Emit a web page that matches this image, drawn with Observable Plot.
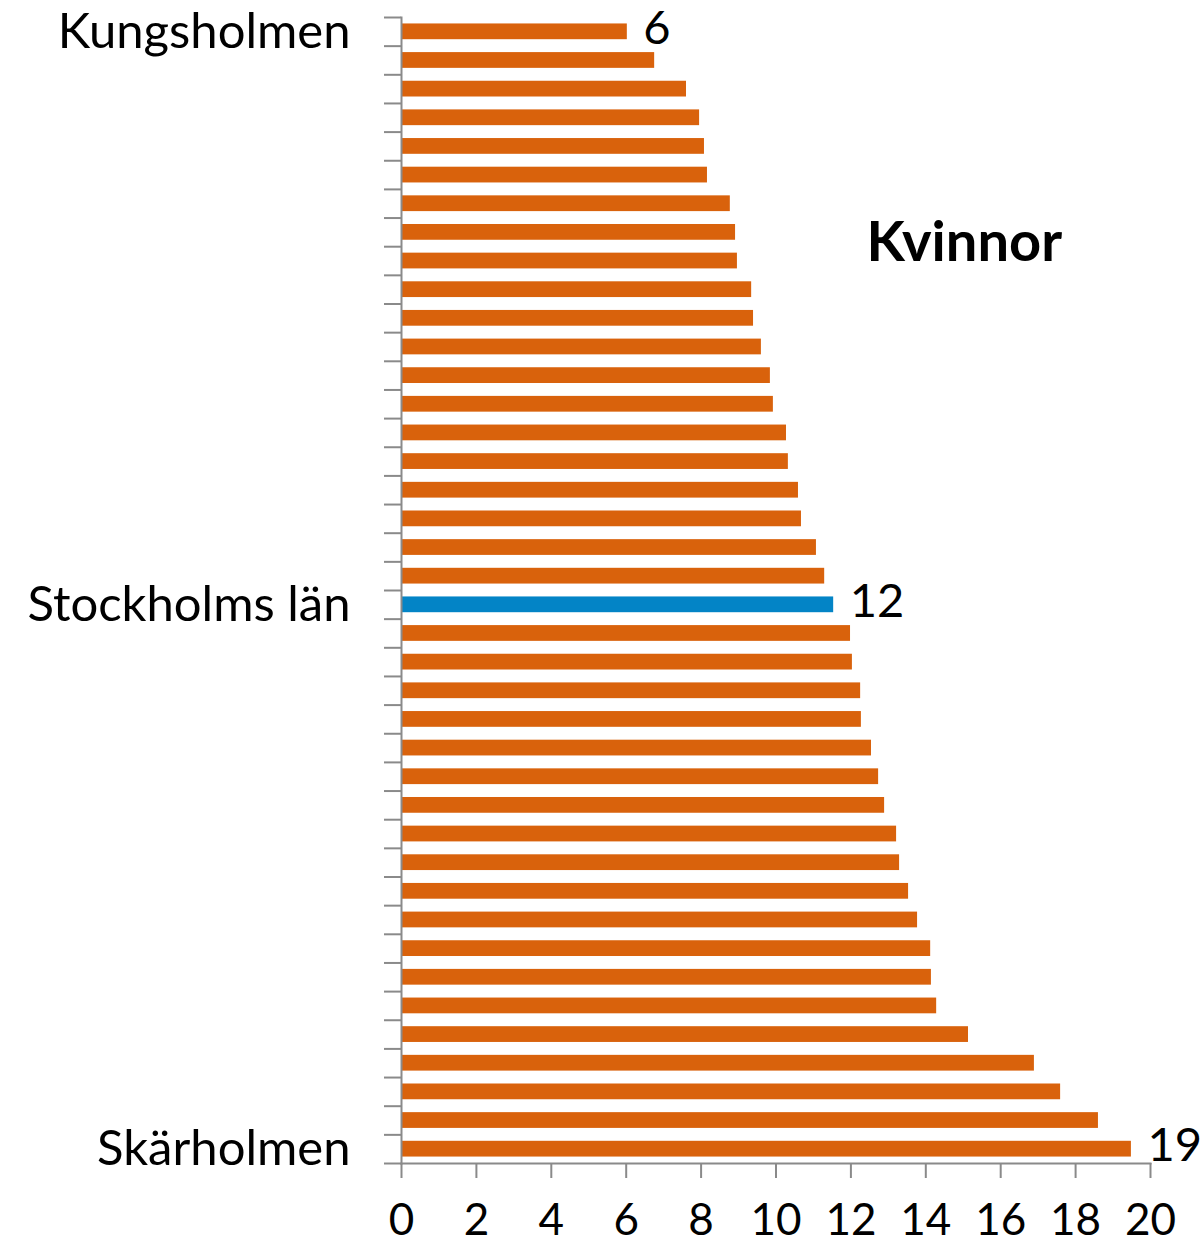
<!DOCTYPE html>
<html>
<head>
<meta charset="utf-8">
<script src="https://cdn.jsdelivr.net/npm/d3@7"></script>
<script src="https://cdn.jsdelivr.net/npm/@observablehq/plot@0.6"></script>
<style>
  html, body { margin: 0; padding: 0; background: #fff; }
</style>
</head>
<body>
<div id="chart"></div>
<script>
const categories = [
  "Kungsholmen", "#2", "#3", "#4", "#5", "#6", "#7", "#8", "#9", "#10",
  "#11", "#12", "#13", "#14", "#15", "#16", "#17", "#18", "#19", "#20",
  "Stockholms län", "#22", "#23", "#24", "#25", "#26", "#27", "#28", "#29", "#30",
  "#31", "#32", "#33", "#34", "#35", "#36", "#37", "#38", "#39", "Skärholmen"
];
const values = [
  6.03, 6.76, 7.61, 7.96, 8.09, 8.17, 8.78, 8.92, 8.97, 9.35,
  9.40, 9.61, 9.85, 9.93, 10.28, 10.33, 10.60, 10.68, 11.08, 11.30,
  11.54, 11.99, 12.04, 12.26, 12.28, 12.55, 12.74, 12.90, 13.22, 13.30,
  13.54, 13.78, 14.13, 14.15, 14.29, 15.14, 16.90, 17.60, 18.61, 19.49
];
const labeledCategories = ["Kungsholmen", "Stockholms län", "Skärholmen"];
const highlightCategory = "Stockholms län";
const xTicks = [0, 2, 4, 6, 8, 10, 12, 14, 16, 18, 20];
const title = "Kvinnor";

const orange = "#D9620C";
const blue = "#0384C6";
const axisGray = "#8a8a8a";

const data = categories.map((name, i) => ({name, value: values[i]}));

const width = 1204, height = 1244;
const marginLeft = 401, marginRight = 54, marginTop = 17, marginBottom = 81;
const step = (height - marginTop - marginBottom) / categories.length;

const chart = Plot.plot({
  width, height, marginLeft, marginRight, marginTop, marginBottom,
  style: {fontFamily: "Lato, 'Open Sans', sans-serif", background: "#fff", color: "#000", overflow: "visible"},
  x: {domain: [0, 20], axis: null, label: null},
  y: {domain: categories, paddingInner: 0.45, paddingOuter: 0.225, round: false, axis: null, label: null},
  marks: [
    Plot.barX(data, {
      x: "value", y: "name",
      fill: d => d.name === highlightCategory ? blue : orange
    }),
    Plot.text(data.filter(d => labeledCategories.includes(d.name)), {
      x: "value", y: "name", text: d => String(Math.round(d.value)),
      textAnchor: "start", dx: 16, dy: -3, fontSize: 47, fill: "#000"
    }),
    Plot.frame({anchor: "left", stroke: axisGray, strokeWidth: 2}),
    Plot.frame({anchor: "bottom", stroke: axisGray, strokeWidth: 2}),
    Plot.axisY({ticks: categories, tickSize: 17, fill: "none", stroke: axisGray, strokeWidth: 2, dy: -step / 2, label: null}),
    Plot.axisY({ticks: categories.slice(-1), tickSize: 17, fill: "none", stroke: axisGray, strokeWidth: 2, dy: step / 2, label: null}),
    Plot.axisY({ticks: labeledCategories, tickSize: 0, tickPadding: 51, fontSize: 49, fill: "#000", label: null}),
    Plot.axisX({ticks: xTicks, tickSize: 15, tickPadding: 25, fontSize: 44, stroke: axisGray, strokeWidth: 2, fill: "#000", label: null}),
    Plot.text([title], {
      frameAnchor: "top-left", dx: 465, dy: 226, textAnchor: "start", lineAnchor: "middle",
      fontWeight: "bold", fontSize: 56, fill: "#000"
    })
  ]
});
document.getElementById("chart").appendChild(chart);
</script>
</body>
</html>
